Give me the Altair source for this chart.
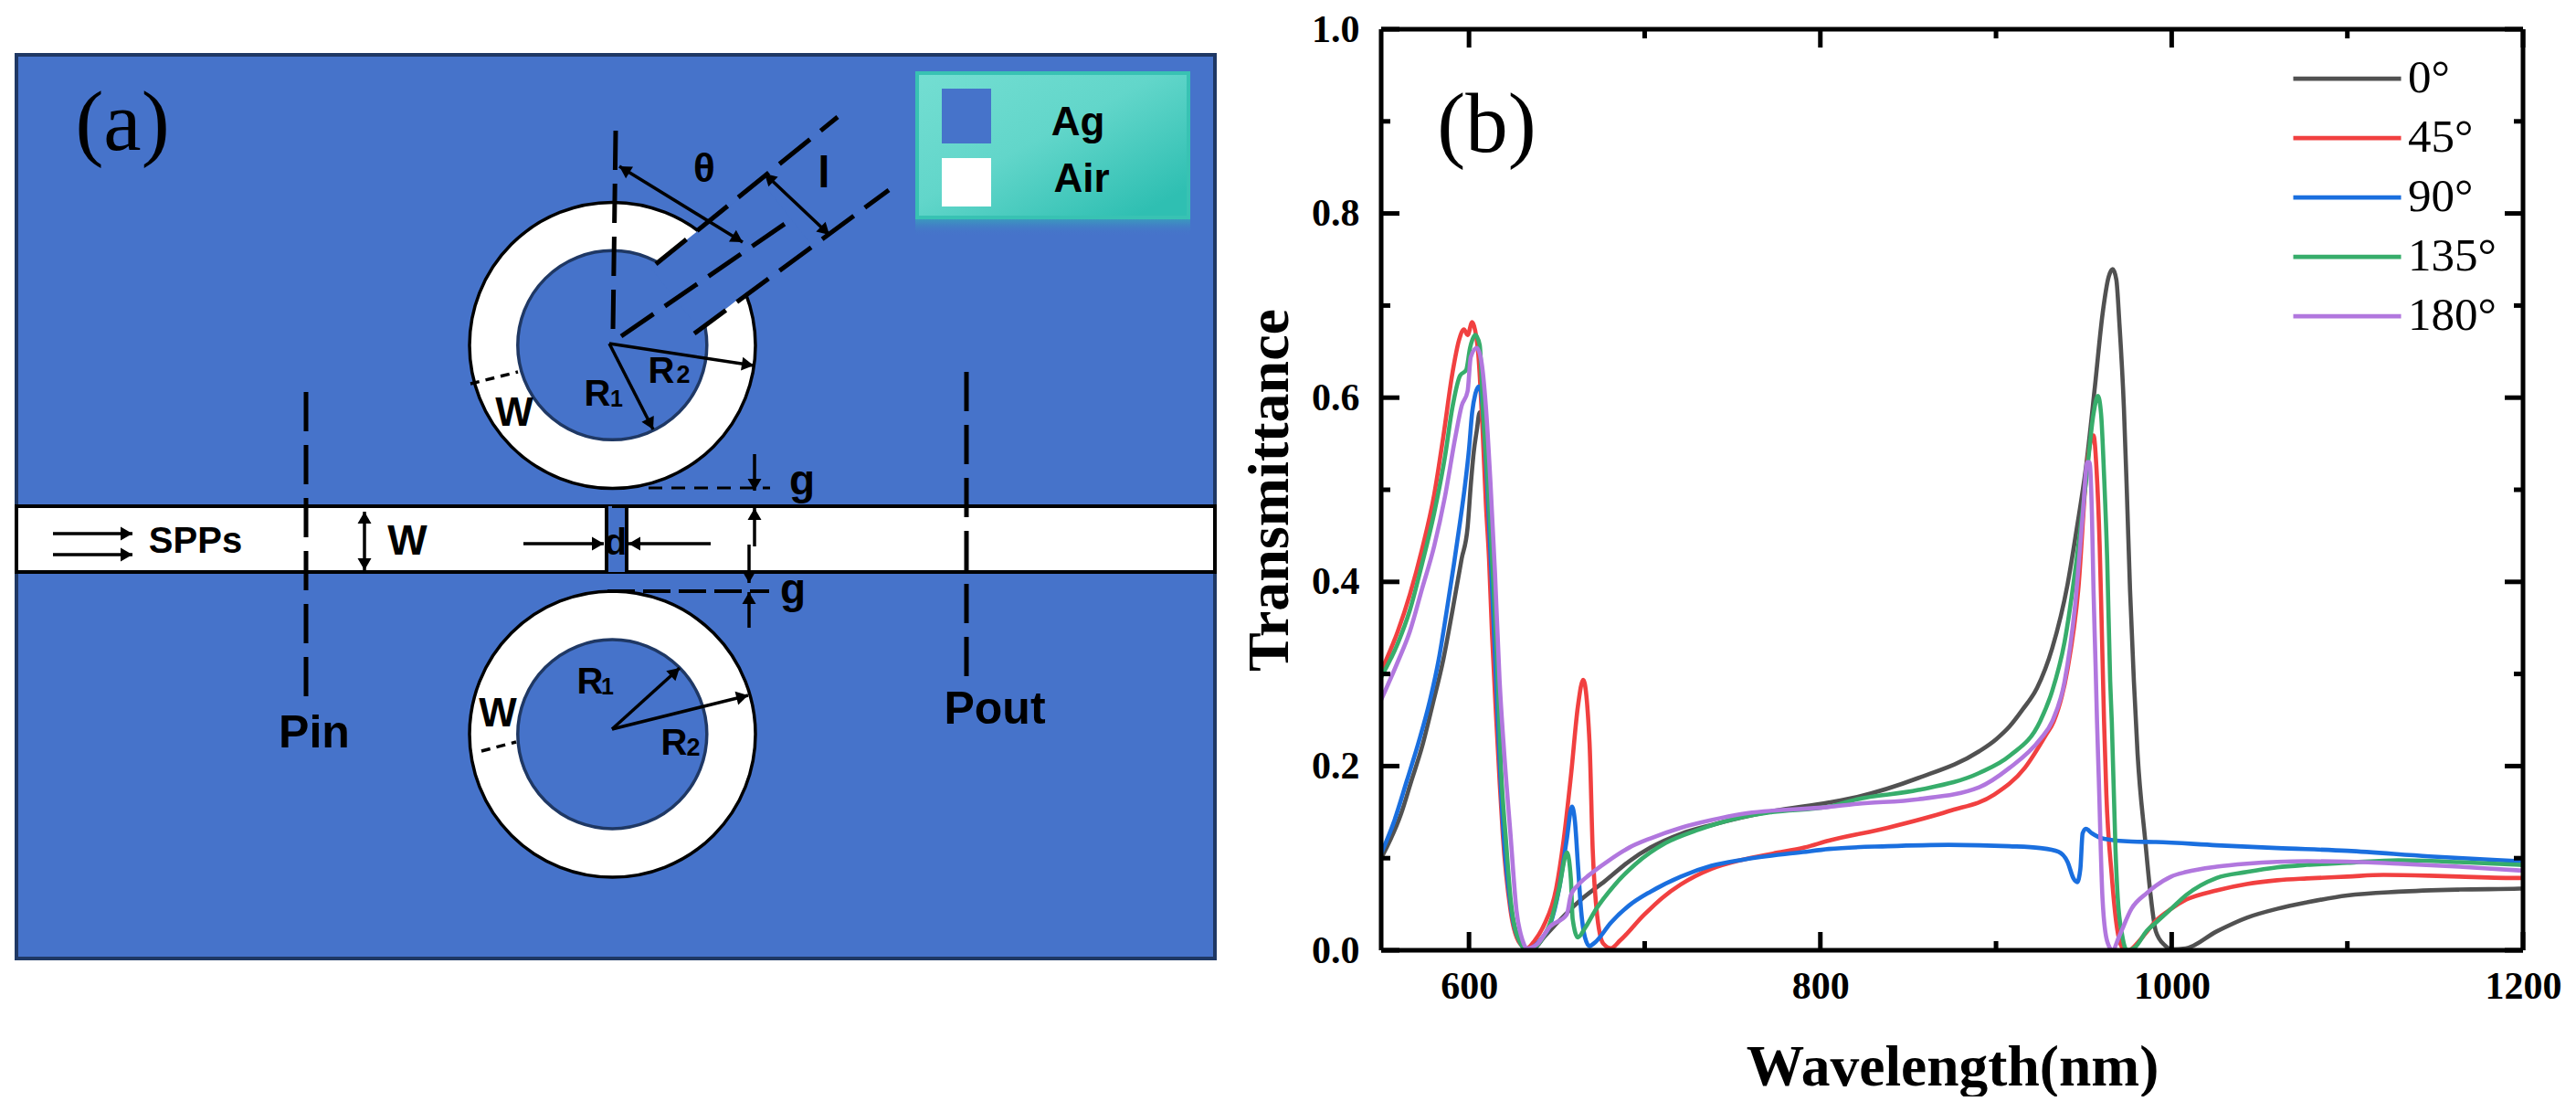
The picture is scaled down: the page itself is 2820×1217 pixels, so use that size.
import math
import altair as alt
import pandas as pd

SERIF = "Liberation Serif"
SANS = "Liberation Sans"
BLUE = "#4673CA"

# ---------- panel (b) values ----------
names = ["0°", "45°", "90°", "135°", "180°"]
colors = ["#515151", "#F14040", "#1A6FDF", "#37AD6B", "#B177DE"]

nm_0 = [550,561.3,567.2,573.2,579.3,585.4,590.6,595.8,599.2,601,602.7,604.4,606.1,607.9,609.6,612,614,616.6,619.2,623.6,629,633,637,642.6,651.3,665,677.3,691.2,703.3,720.6,738,772.6,804.8,821,855.7,890.4,900,907.7,915,923.4,932,940.7,945.9,951.1,956.3,960.7,964.1,966.4,968.5,970.2,972.8,974.5,976.3,978.5,980.6,984.9,988,991,996,1000,1008,1025.6,1042.8,1060,1077,1100,1129,1163.7,1198,1200]
t_0 = [.1,.148,.184,.2205,.267,.316,.369,.425,.459,.505,.541,.564,.584,.571,.518,.43,.35,.24,.14,.05,.009,.001,.002,.014,.032,.057,.075,.0967,.1115,.1264,.136,.151,.1605,.1665,.187,.216,.229,.243,.261,.285,.328,.397,.457,.523,.612,.6916,.731,.7395,.728,.682,.589,.4965,.391,.2916,.213,.12,.06,.0205,.0056,.001,.002,.0205,.0354,.045,.052,.0596,.0636,.0659,.0669,.067]

nm_45 = [550,559.4,566.3,573.2,580.2,585.4,590.6,594.4,597.1,599.2,601.8,603.5,605.3,607.9,609.6,611.4,613.1,615.7,617.4,619.2,623.6,629,633,637.4,642.6,649.6,653.9,658.2,662,665,668.6,670.4,673,676.4,680.8,686,699.8,710,720.6,738,755.6,773,791,804.8,838.3,873,899,916.4,928.5,932.9,940.7,946.8,952,955.5,957.2,959,960.1,961.5,962.8,965.8,968.4,971.9,975.4,980.6,985,991,999.7,1008.3,1025.6,1042.8,1060,1077,1100,1120.5,1146.5,1163.7,1198,1200]
t_45 = [.303,.346,.386,.435,.495,.558,.627,.663,.674,.668,.682,.673,.647,.558,.485,.425,.343,.244,.184,.1264,.0437,.0073,.0023,.0106,.027,.0669,.12,.1927,.265,.2936,.2258,.11,.037,.0073,.0023,.0106,.0387,.0569,.0715,.0884,.0983,.105,.1115,.119,.133,.151,.169,.198,.234,.2486,.305,.391,.53,.559,.523,.44,.358,.2486,.17,.083,.031,.003,0,.008,.018,.032,.045,.055,.065,.072,.076,.078,.08,.0818,.081,.08,.0785,.0785]

nm_90 = [550,557,564.6,571.5,577.6,582.8,587.1,591.4,594.9,597.5,600,601.8,603.6,605.6,607,608.8,610.5,613,615.7,619.2,623.6,629,633,637,641,646,651.3,655.6,658.6,660.3,662,663.8,666,668.6,672,680.8,691.2,703.3,720.6,738,755.6,790,804.8,838.3,873,907.7,925.1,935.5,940.7,944.1,946.2,948,949.3,951.1,954.6,961.5,977.1,991,1025.6,1060,1100,1146.5,1198,1200]
t_90 = [.105,.138,.184,.227,.27,.316,.366,.419,.465,.5015,.544,.584,.604,.612,.604,.561,.5,.4,.28,.14,.05,.009,.001,.004,.012,.027,.067,.12,.156,.14,.093,.0437,.014,.0046,.009,.03,.0487,.0636,.08,.0917,.0983,.1066,.11,.113,.1145,.113,.111,.107,.096,.078,.074,.088,.127,.132,.127,.121,.118,.1175,.114,.111,.108,.102,.0967,.0965]

nm_135 = [550,559.4,566.3,573.2,580.2,586.2,590.6,594.9,598.4,600.6,603.6,606.1,607.9,610.5,613.1,615.7,618.3,621,624,629,633,637,641,647,651.3,655.8,658,659,662,666,672,682.5,694.6,712,729.3,755.6,772.6,804.8,821,855.7,890.4,907.7,925.1,932,939,945.9,951.1,955.5,958,959.8,961.5,963.3,965,965.9,968,969.3,971.9,974.5,978.8,985.8,991,999.7,1008.3,1025.6,1042.8,1060,1077,1100,1129,1163.7,1198,1200]
t_135 = [.2965,.333,.369,.419,.475,.5345,.59,.624,.63,.654,.668,.657,.59,.515,.425,.326,.194,.12,.05,.009,.001,.003,.0106,.034,.067,.106,.077,.034,.014,.024,.0437,.07,.0933,.1165,.13,.1447,.15,.156,.164,.174,.1925,.211,.2486,.2816,.3345,.424,.5064,.5825,.602,.5825,.516,.424,.2916,.2486,.11,.057,.0156,0,.0026,.021,.03,.045,.06,.0785,.085,.09,.0927,.095,.0977,.0957,.0927,.0925]

nm_180 = [550,559.4,566.3,573.2,580.2,586.2,592.3,595.8,599.2,601,604.4,607,609.6,612.2,614.8,617.4,620,623.6,627,630.5,633,639,646,655.6,658,661.7,668.6,679,691.2,703.3,720.6,738,755.6,804.8,821,855.7,890.4,907.7,925.1,932,939,945,949.4,952,953.2,954.6,955.5,956.7,957.5,958.5,960.6,963.2,966.3,970.2,977.1,985.8,991,999.7,1008.3,1025.6,1042.8,1060,1077,1100,1129,1163.7,1198,1200]
t_180 = [.272,.313,.346,.392,.439,.4915,.558,.591,.607,.644,.654,.64,.59,.508,.409,.293,.215,.1264,.0437,.0106,.002,.007,.0255,.0387,.06,.07,.082,.0967,.1115,.1215,.133,.1413,.148,.1556,.159,.164,.177,.198,.229,.2486,.2916,.374,.473,.53,.53,.473,.391,.308,.2486,.187,.057,.0104,0,.0156,.045,.062,.07,.08,.085,.0907,.094,.096,.0967,.0963,.094,.0907,.0867,.0865]

x_major = [600, 800, 1000, 1200]
x_minor = [700, 900, 1100]
y_major = [0, .2, .4, .6, .8, 1.0]
y_minor = [.1, .3, .5, .7, .9]

W_B, H_B = 1250, 1008
curves = pd.concat([
    pd.DataFrame({"nm": n, "T": t, "angle": a})
    for n, t, a in zip([nm_0, nm_45, nm_90, nm_135, nm_180],
                       [t_0, t_45, t_90, t_135, t_180], names)
])

xs = alt.Scale(domain=[550, 1200], nice=False, zero=False)
ys = alt.Scale(domain=[0, 1], nice=False, zero=False)

lines = alt.Chart(curves).mark_line(strokeWidth=4.6, interpolate="monotone", clip=True).encode(
    x=alt.X("nm:Q", scale=xs, title="Wavelength(nm)",
            axis=alt.Axis(values=x_major, ticks=False, domain=False, grid=False, format="d",
                          labelFont=SERIF, labelFontSize=42, labelFontWeight="bold", labelColor="black",
                          labelPadding=19, labelOverlap=False, labelFlush=False,
                          titleFont=SERIF, titleFontSize=63.5, titleFontWeight="bold", titleColor="black",
                          titlePadding=37)),
    y=alt.Y("T:Q", scale=ys, title="Transmittance",
            axis=alt.Axis(values=y_major, ticks=False, domain=False, grid=False, format=".1f",
                          labelFont=SERIF, labelFontSize=42, labelFontWeight="bold", labelColor="black",
                          labelPadding=24, labelOverlap=False, labelFlush=False,
                          titleFont=SERIF, titleFontSize=64, titleFontWeight="bold", titleColor="black",
                          titlePadding=13)),
    color=alt.Color("angle:N", scale=alt.Scale(domain=names, range=colors), sort=names,
                    legend=alt.Legend(orient="none", legendX=996, legendY=22, title=None,
                                      symbolType="stroke", symbolSize=13924, symbolStrokeWidth=4.7,
                                      labelFont=SERIF, labelFontSize=51, labelColor="black",
                                      labelOffset=5, rowPadding=0, clipHeight=64.4, labelLimit=300)),
    detail="angle:N",
)


def vticks(values, length, at_top):
    df = pd.DataFrame({"v": values})
    y1, y2 = (0, length) if at_top else (H_B, H_B - length)
    return alt.Chart(df).mark_rule(color="black", strokeWidth=5).encode(
        x=alt.X("v:Q", scale=xs, axis=None), y=alt.value(y1), y2=alt.value(y2))


def hticks(values, length, at_right):
    df = pd.DataFrame({"v": values})
    x1, x2 = (W_B, W_B - length) if at_right else (0, length)
    return alt.Chart(df).mark_rule(color="black", strokeWidth=5).encode(
        y=alt.Y("v:Q", scale=ys, axis=None), x=alt.value(x1), x2=alt.value(x2))


frame_h = alt.Chart(pd.DataFrame({"v": [0, 1]})).mark_rule(color="black", strokeWidth=5).encode(
    y=alt.Y("v:Q", scale=ys, axis=None), x=alt.value(0), x2=alt.value(W_B))
frame_v = alt.Chart(pd.DataFrame({"v": [550, 1200]})).mark_rule(color="black", strokeWidth=5).encode(
    x=alt.X("v:Q", scale=xs, axis=None), y=alt.value(0), y2=alt.value(H_B))

tag_b = alt.Chart(pd.DataFrame({"nm": [610], "T": [.895], "s": ["(b)"]})).mark_text(
    font=SERIF, fontSize=93, color="black", align="center", baseline="middle").encode(
    x=alt.X("nm:Q", scale=xs, axis=None), y=alt.Y("T:Q", scale=ys, axis=None), text="s:N")

panel_b = alt.layer(
    lines,
    vticks(x_major, 20, False), vticks(x_minor, 10, False),
    vticks(x_major, 20, True), vticks(x_minor, 10, True),
    hticks(y_major, 20, False), hticks(y_minor, 10, False),
    hticks(y_major, 20, True), hticks(y_minor, 10, True),
    frame_h, frame_v, tag_b,
).resolve_axis(x="independent", y="independent").properties(width=W_B, height=H_B)

# ---------- panel (a): schematic, in picture coordinates ----------
X0, X1, Y0, Y1 = 8, 1340, 32, 1052
ax = alt.Scale(domain=[X0, X1], nice=False, zero=False)
ay = alt.Scale(domain=[Y1, Y0], nice=False, zero=False)


def rect(x, x2, y, y2, **kw):
    df = pd.DataFrame({"x": [x], "x2": [x2], "y": [y], "y2": [y2]})
    return alt.Chart(df).mark_rect(**kw).encode(
        x=alt.X("x:Q", scale=ax, axis=None), x2="x2:Q",
        y=alt.Y("y:Q", scale=ay, axis=None), y2="y2:Q")


def segs(rows, color="black", width=4, dash=None):
    df = pd.DataFrame(rows, columns=["x", "y", "x2", "y2"])
    kw = dict(color=color, strokeWidth=width)
    if dash:
        kw["strokeDash"] = dash
    return alt.Chart(df).mark_rule(**kw).encode(
        x=alt.X("x:Q", scale=ax, axis=None), x2="x2:Q",
        y=alt.Y("y:Q", scale=ay, axis=None), y2="y2:Q")


def circles(rows, r, fill, stroke, width):
    df = pd.DataFrame(rows, columns=["x", "y"])
    return alt.Chart(df).mark_point(shape="circle", filled=True, fill=fill, stroke=stroke,
                                    strokeWidth=width, size=(2 * r) ** 2, opacity=1).encode(
        x=alt.X("x:Q", scale=ax, axis=None), y=alt.Y("y:Q", scale=ay, axis=None))


def arrows(rows, head=15, width=3.5):
    """rows: start x, start y, tip x, tip y, both ends?"""
    stems, heads = [], []
    for x1, y1, x2, y2, both in rows:
        stems.append((x1, y1, x2, y2))
        ends = [(x1, y1, x2, y2)]
        if both:
            ends.append((x2, y2, x1, y1))
        for a, b, c, d in ends:
            dx, dy = c - a, d - b
            n = math.hypot(dx, dy)
            back = head * 0.433
            heads.append({"x": c - dx / n * back, "y": d - dy / n * back,
                          "a": (math.degrees(math.atan2(dx, -dy))) % 360})
    h = alt.Chart(pd.DataFrame(heads)).mark_point(shape="triangle-up", filled=True, color="black",
                                                  size=head ** 2, opacity=1).encode(
        x=alt.X("x:Q", scale=ax, axis=None), y=alt.Y("y:Q", scale=ay, axis=None),
        angle=alt.Angle("a:Q", scale=None))
    return segs(stems, width=width) + h


def texts(rows, font=SANS, weight="bold"):
    df = pd.DataFrame(rows, columns=["x", "y", "s", "fs"])
    return alt.Chart(df).mark_text(font=font, fontWeight=weight, color="black",
                                   align="center", baseline="middle").encode(
        x=alt.X("x:Q", scale=ax, axis=None), y=alt.Y("y:Q", scale=ay, axis=None),
        text="s:N", size=alt.Size("fs:Q", scale=None, legend=None))


legend_fill = alt.LinearGradient(
    gradient="linear", x1=0, y1=0, x2=1, y2=1,
    stops=[alt.GradientStop(color="#74DED2", offset=0),
           alt.GradientStop(color="#62D6CA", offset=0.45),
           alt.GradientStop(color="#2FBFB2", offset=0.9),
           alt.GradientStop(color="#2FBFB2", offset=1)])
legend_shadow = alt.LinearGradient(
    gradient="linear", x1=0, y1=0, x2=0, y2=1,
    stops=[alt.GradientStop(color="rgba(47,191,178,0.5)", offset=0),
           alt.GradientStop(color="rgba(70,115,202,0)", offset=1)])

panel_a = alt.layer(
    rect(18, 1330, 60, 1049, color=BLUE, stroke="#1F3864", strokeWidth=4),
    rect(18, 1330, 554, 626, color="white", stroke="black", strokeWidth=4),
    rect(664, 686, 554, 626, color=BLUE),
    segs([(664, 554, 664, 626), (686, 554, 686, 626)], width=4),
    circles([(670.5, 378), (670.5, 803.5)], 156.5, "white", "black", 3.5),
    circles([(670.3, 377.8), (670.3, 803.5)], 103.5, BLUE, "#1F3864", 3.5),
    segs([(739, 327, 860, 232)], color=BLUE, width=86),
    # legend box
    rect(1002, 1303, 240, 258, color=legend_shadow),
    rect(1004, 1301, 80, 238, color=legend_fill, stroke="#38C2B3", strokeWidth=4),
    rect(1031, 1085, 97, 157, color=BLUE),
    rect(1031, 1085, 173, 226, color="white"),
    texts([(1180, 135, "Ag", 44), (1184, 197, "Air", 44)]),
    # dashed construction lines
    segs([(335, 429, 335, 765), (1058, 407, 1058, 740), (674, 143, 671, 363)], width=5, dash=[43, 15]),
    segs([(718, 289, 917, 128), (680, 368, 862, 243), (760, 365, 973, 208)], width=5, dash=[43, 15]),
    segs([(515, 420, 567, 407), (527, 822, 565, 812)], width=3.5, dash=[10, 7]),
    segs([(710, 534, 843, 534)], width=3, dash=[15, 10]),
    segs([(670, 554, 850, 554)], width=4, dash=[15, 9]),
    segs([(665, 647, 842, 647)], width=4, dash=[30, 9]),
    # arrows
    arrows([(58, 584, 145, 584, False), (58, 607, 145, 607, False), (399, 560, 399, 624, True),
            (573, 595, 661, 595, False), (778, 595, 688, 595, False), (826, 497, 826, 537, False),
            (826, 598, 826, 556, False), (820, 596, 820, 638, False), (820, 687, 820, 648, False)]),
    arrows([(678, 182, 813, 265, True), (837, 190, 908, 257, True), (667, 376, 825, 400, False),
            (667, 376, 715, 470, False), (670, 798, 744, 731, False), (670, 798, 819, 761, False)]),
    # labels
    texts([(214, 593, "SPPs", 40), (446, 593, "W", 46), (674, 595, "d", 40), (878, 527, "g", 46),
           (868, 646, "g", 46), (771, 186, "θ", 44), (902, 191, "l", 48),
           (563, 453, "W", 44), (545, 782, "W", 44),
           (344, 803, "Pin", 50), (1089, 777, "Pout", 50),
           (654, 432, "R", 40), (675, 437, "1", 25), (724, 407, "R", 40), (748, 411, "2", 27),
           (646, 747, "R", 40), (665, 752, "1", 25), (738, 814, "R", 40), (759, 819, "2", 27)]),
    texts([(134, 136, "(a)", 93)], font=SERIF, weight="normal"),
).properties(width=X1 - X0, height=Y1 - Y0)

chart = alt.hconcat(panel_a, panel_b, spacing=172, bounds="flush").resolve_scale(
    x="independent", y="independent", color="independent", size="independent"
).properties(padding={"left": 0, "top": 3, "right": 0, "bottom": 0}, background="white").configure_view(stroke=None)

chart.save("out.html", embed_options={"renderer": "svg", "actions": False})
